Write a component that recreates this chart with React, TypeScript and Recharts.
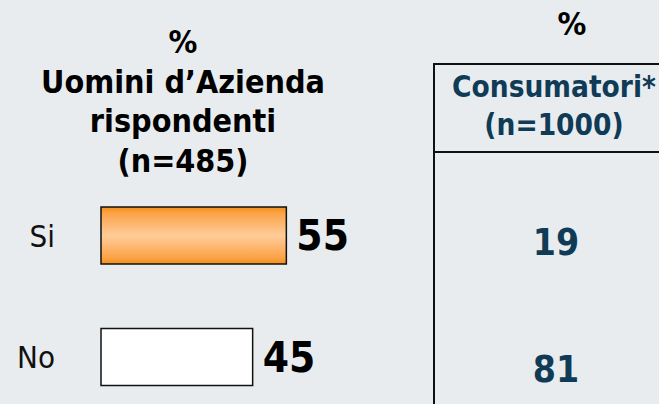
import React from 'react';
import { BarChart, Bar, XAxis, YAxis, LabelList, Cell } from 'recharts';

const categories = ['Si', 'No'];
const aziendaValues = [55, 45];
const consumatoriValues = [19, 81];
const titleLines = ['%', 'Uomini d\u2019Azienda', 'rispondenti', '(n=485)'];
const tableHeader = ['Consumatori*', '(n=1000)'];

const FONT = '"DejaVu Sans Condensed", "DejaVu Sans", Verdana, sans-serif';
const TEAL = '#0f3b57';

const data = categories.map((name, i) => ({ name, value: aziendaValues[i] }));

const CategoryTick = (props: any) => {
  const { y, payload } = props;
  return (
    <text x={55} y={y} dy="0.36em" textAnchor="end" fontSize={31} fill="#111" fontFamily={FONT}>
      {payload.value}
    </text>
  );
};

const App: React.FC = () => {
  return (
    <div
      style={{
        position: 'absolute',
        left: 0,
        top: 0,
        width: 659,
        height: 404,
        overflow: 'hidden',
        background: '#e9ecee',
      }}
    >
      <BarChart
        width={659}
        height={420}
        data={data}
        layout="vertical"
        margin={{ top: 175, right: 221, bottom: 2, left: 0 }}
      >
        <defs>
          <linearGradient id="orangeGrad" x1="0" y1="0" x2="0" y2="1">
            <stop offset="0%" stopColor="#f39018" />
            <stop offset="12%" stopColor="#fba44a" />
            <stop offset="50%" stopColor="#ffcc99" />
            <stop offset="88%" stopColor="#fba44a" />
            <stop offset="100%" stopColor="#f39018" />
          </linearGradient>
        </defs>
        <XAxis type="number" domain={[0, 100]} hide />
        <YAxis
          type="category"
          dataKey="name"
          width={101}
          axisLine={false}
          tickLine={false}
          tick={<CategoryTick />}
        />
        <Bar dataKey="value" barSize={57} stroke="#111" strokeWidth={1.5} isAnimationActive={false}>
          {data.map((d, i) => (
            <Cell key={d.name} fill={i === 0 ? 'url(#orangeGrad)' : '#ffffff'} />
          ))}
          <LabelList
            dataKey="value"
            position="right"
            offset={10}
            fontSize={42}
            fontWeight="bold"
            fill="#000"
            fontFamily={FONT}
          />
        </Bar>
      </BarChart>
      <svg
        width={659}
        height={404}
        style={{ position: 'absolute', left: 0, top: 0, pointerEvents: 'none' }}
        fontFamily={FONT}
        fontWeight="bold"
      >
        {titleLines.map((t, i) => (
          <text key={t} x={183} y={53 + i * 39.6} textAnchor="middle" fontSize={32} fill="#000">
            {t}
          </text>
        ))}
        <text x={572} y={35} textAnchor="middle" fontSize={32} fill="#000">
          %
        </text>
        <line x1={434} y1={64} x2={434} y2={404} stroke="#111" strokeWidth={2} />
        <line x1={433} y1={64} x2={659} y2={64} stroke="#111" strokeWidth={2} />
        <line x1={433} y1={152} x2={659} y2={152} stroke="#111" strokeWidth={2} />
        {tableHeader.map((t, i) => (
          <text key={t} x={554} y={97 + i * 38} textAnchor="middle" fontSize={29.5} fill={TEAL}>
            {t}
          </text>
        ))}
        {consumatoriValues.map((v, i) => (
          <text key={i} x={556} y={255 + i * 127} textAnchor="middle" fontSize={37} fill={TEAL}>
            {v}
          </text>
        ))}
      </svg>
    </div>
  );
};

export default App;
